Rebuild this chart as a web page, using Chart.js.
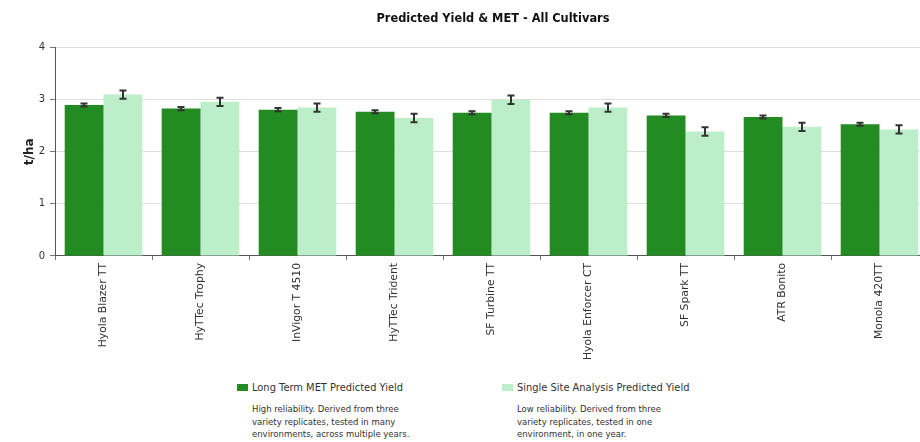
<!DOCTYPE html>
<html>
<head>
<meta charset="utf-8">
<script src="https://cdn.jsdelivr.net/npm/chart.js@4"></script>
<style>
  body { margin: 0; background: #fff; overflow: hidden; width: 920px; height: 442px; position: relative; }
  #wrap { position: absolute; left: 0; top: 0; }
  .legend { position: absolute; top: 381px; font-family: "DejaVu Sans", Verdana, sans-serif; color: #333; }
  .legend .item { font-size: 9.9px; display: flex; align-items: center; height: 13px; }
  .legend .sw { width: 11px; height: 7px; margin-right: 4px; }
  .legend .desc { font-size: 8.5px; line-height: 12.5px; margin-top: 9px; margin-left: 15px; }
</style>
</head>
<body>
<div id="wrap"><canvas id="myChart" width="963" height="363"></canvas></div>

<div class="legend" style="left:237px">
  <div class="item"><span class="sw" style="background:rgb(34,139,34)"></span>Long Term MET Predicted Yield</div>
  <div class="desc">High reliability. Derived from three<br>variety replicates, tested in many<br>environments, across multiple years.</div>
</div>
<div class="legend" style="left:502px">
  <div class="item"><span class="sw" style="background:rgb(188,238,202)"></span>Single Site Analysis Predicted Yield</div>
  <div class="desc">Low reliability. Derived from three<br>variety replicates, tested in one<br>environment, in one year.</div>
</div>

<script>
// cultivars and values
const cultivars = ['Hyola Blazer TT', 'HyTTec Trophy', 'InVigor T 4510', 'HyTTec Trident',
  'SF Turbine TT', 'Hyola Enforcer CT', 'SF Spark TT', 'ATR Bonito', 'Monola 420TT'];
const metYield = [2.90, 2.83, 2.81, 2.77, 2.75, 2.75, 2.70, 2.67, 2.53];
const metError = [0.03, 0.03, 0.03, 0.03, 0.03, 0.03, 0.03, 0.03, 0.03];
const ssaYield = [3.10, 2.96, 2.85, 2.65, 3.00, 2.85, 2.39, 2.48, 2.43];
const ssaError = [0.08, 0.08, 0.08, 0.08, 0.08, 0.08, 0.08, 0.08, 0.08];
const yTicks = [0, 1, 2, 3, 4];

const errors = [metError, ssaError];

// draws the little I-shaped error bars on top of each bar
const errorBars = {
  id: 'errorBars',
  afterDatasetsDraw(chart) {
    const ctx = chart.ctx;
    const y = chart.scales.y;
    ctx.save();
    ctx.strokeStyle = '#333';
    ctx.lineWidth = 2;
    chart.data.datasets.forEach((ds, i) => {
      const meta = chart.getDatasetMeta(i);
      meta.data.forEach((bar, j) => {
        const v = ds.data[j];
        const e = errors[i][j];
        const top = y.getPixelForValue(v + e);
        const bot = y.getPixelForValue(v - e);
        const x = Math.round(bar.x);
        ctx.beginPath();
        ctx.moveTo(x, top); ctx.lineTo(x, bot);
        ctx.moveTo(x - 3.5, top); ctx.lineTo(x + 3.5, top);
        ctx.moveTo(x - 3.5, bot); ctx.lineTo(x + 3.5, bot);
        ctx.stroke();
      });
    });
    ctx.restore();
  }
};

const ctx = document.getElementById('myChart').getContext('2d');
new Chart(ctx, {
  type: 'bar',
  data: {
    labels: cultivars,
    datasets: [
      {
        label: 'Long Term MET Predicted Yield',
        data: metYield,
        backgroundColor: 'rgb(34,139,34)',
      },
      {
        label: 'Single Site Analysis Predicted Yield',
        data: ssaYield,
        backgroundColor: 'rgb(188,238,202)',
      },
    ],
  },
  options: {
    responsive: false,
    animation: false,
    layout: { padding: { left: 23, right: 0, top: 0, bottom: 0 } },
    datasets: { bar: { categoryPercentage: 0.8, barPercentage: 1.0 } },
    scales: {
      x: {
        grid: { drawOnChartArea: false, drawTicks: true, tickLength: 4, color: '#777' },
        border: { color: '#555', width: 1 },
        ticks: {
          minRotation: 90, maxRotation: 90, autoSkip: false,
          color: '#333', padding: 3,
          font: { family: 'DejaVu Sans', size: 10.8 },
        },
      },
      y: {
        min: 0, max: 4,
        afterBuildTicks: (axis) => { axis.ticks = yTicks.map(v => ({ value: v })); },
        grid: { color: '#ddd', tickLength: 5, tickColor: '#777' },
        border: { color: '#555', width: 1 },
        ticks: { color: '#333', padding: 5, font: { family: 'DejaVu Sans', size: 10 } },
        title: {
          display: true, text: 't/ha', color: '#222',
          font: { family: 'DejaVu Sans', size: 12, weight: 'bold' },
          padding: { top: 0, bottom: 0 },
        },
        afterFit: (axis) => { axis.width = 32; },
      },
      // empty right-hand axis: just reserves the space past the window edge
      yRight: {
        position: 'right',
        grid: { display: false },
        border: { display: false },
        ticks: { display: false },
        afterFit: (axis) => { axis.width = 35; },
      },
    },
    plugins: {
      title: {
        display: true,
        text: 'Predicted Yield & MET - All Cultivars',
        color: '#111',
        font: { family: 'DejaVu Sans', size: 11.4, weight: 'bold' },
        padding: { top: 12, bottom: 22 },
      },
      legend: { display: false },
      tooltip: { enabled: false },
    },
  },
  plugins: [errorBars],
});
</script>
</body>
</html>
